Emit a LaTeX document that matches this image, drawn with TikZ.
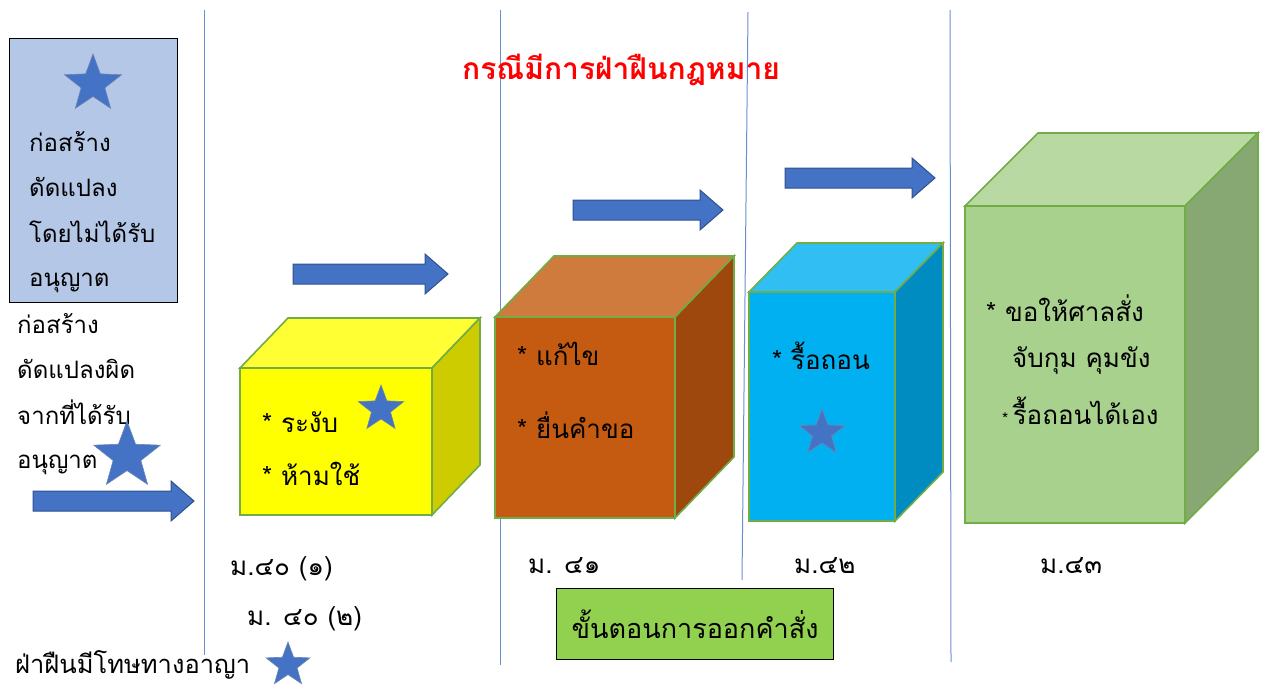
\documentclass[tikz,border=0pt]{standalone}
\usepackage{fontspec}
\setmainfont[Script=Thai]{Loma}
\usetikzlibrary{shapes.geometric}
\definecolor{vline}{HTML}{6A8FD0}
\definecolor{arrfill}{HTML}{4472C4}
\definecolor{arrdraw}{HTML}{2F528F}
\definecolor{cubeedge}{HTML}{70AD47}
\definecolor{boxblue}{HTML}{B4C7E7}
\definecolor{boxgreen}{HTML}{92D050}
\definecolor{yfront}{HTML}{FFFF00}
\definecolor{ytop}{HTML}{FFFF33}
\definecolor{yside}{HTML}{CCCC00}
\definecolor{ofront}{HTML}{C55A11}
\definecolor{otop}{HTML}{CF7B3E}
\definecolor{oside}{HTML}{9E480E}
\definecolor{bfront}{HTML}{00B0F0}
\definecolor{btop}{HTML}{31BEF2}
\definecolor{bside}{HTML}{008CC0}
\definecolor{gfront}{HTML}{A9D18E}
\definecolor{gtop}{HTML}{B9D9A2}
\definecolor{gside}{HTML}{87A872}
\tikzset{
  vl/.style={draw=vline, line width=1pt},
  barr/.style={fill=arrfill, draw=arrdraw, line width=1pt, line join=miter},
  mystar/.style={star, star points=5, star point ratio=2.4, fill=arrfill, draw=arrdraw!70, line width=0.6pt, inner sep=0pt, minimum size=#1},
  face/.style={draw=cubeedge, line width=1.6pt, line join=miter},
  txt/.style={anchor=base west, inner sep=0pt, font=\fontsize{24}{28}\selectfont},
  lbl/.style={anchor=base west, inner sep=0pt, font=\fontsize{26}{30}\selectfont},
}
\newcommand\blockarrow[3]{% x1, x2, yc
  \path[barr] (#1,#3-10) -- (#2-23,#3-10) -- (#2-23,#3-20) -- (#2,#3) -- (#2-23,#3+20) -- (#2-23,#3+10) -- (#1,#3+10) -- cycle;}
\newcommand\mycube[9]{% x0 y0 x1 y1 dx dy front top side
  \path[face, fill=#8] (#1,#2) -- (#1+#5,#2-#6) -- (#3+#5,#2-#6) -- (#3,#2) -- cycle;
  \path[face, fill=#9] (#3,#2) -- (#3+#5,#2-#6) -- (#3+#5,#4-#6) -- (#3,#4) -- cycle;
  \path[face, fill=#7] (#1,#2) rectangle (#3,#4);}
\begin{document}
\begin{tikzpicture}[x=1pt,y=-1pt]
\useasboundingbox (0,0) rectangle (1266,693);
% vertical lines
\draw[vl] (204,10) -- (204,655);
\draw[vl] (500,10) -- (500,665);
\draw[vl] (748,12) -- (742,580);
\draw[vl] (950,10) -- (951,662);
% title
\node[txt, text=red, font=\fontsize{30}{34}\selectfont\bfseries] (title) at (462,80) {กรณีมีการฝ่าฝืนกฎหมาย};
% left box
\node[draw=black, fill=boxblue, line width=1pt, minimum width=168, minimum height=264, anchor=north west, inner sep=0pt] (lbox) at (9,38) {};
\node[mystar=60] (s1) at (93,84) {};
\node[txt] (l1) at (29,151) {ก่อสร้าง};
\node[txt] (l2) at (29,196) {ดัดแปลง};
\node[txt] (l3) at (29,242) {โดยไม่ได้รับ};
\node[txt] (l4) at (29,286) {อนุญาต};
\node[txt] (m1) at (17,333) {ก่อสร้าง};
\node[txt] (m2) at (17,378) {ดัดแปลงผิด};
\node[txt] (m3) at (17,424) {จากที่ได้รับ};
\node[txt] (m4) at (17,468) {อนุญาต};
\node[mystar=70] (s2) at (127,456) {};
% arrows
\blockarrow{33}{194}{501}
\blockarrow{293}{448}{274}
\blockarrow{573}{723}{210}
\blockarrow{785}{935}{178}
% cubes
\mycube{240}{368}{432}{515}{48}{50}{yfront}{ytop}{yside}
\mycube{495}{317}{675}{518}{59}{61}{ofront}{otop}{oside}
\mycube{749}{292}{895}{521}{48}{49}{bfront}{btop}{bside}
\mycube{965}{206}{1185}{523}{73}{73}{gfront}{gtop}{gside}
% cube texts
\node[lbl] (y1) at (262,432) {* ระงับ};
\node[lbl] (y2) at (262,485) {* ห้ามใช้};
\node[mystar=48] (s3) at (381,409) {};
\node[lbl] (o1) at (517,365) {* แก้ไข};
\node[lbl] (o2) at (517,438) {* ยื่นคำขอ};
\node[lbl] (b1) at (772,369) {* รื้อถอน};
\node[mystar=48] (s4) at (822,433) {};
\node[lbl] (g1) at (986,321) {* ขอให้ศาลสั่ง};
\node[lbl] (g2) at (1012,367) {จับกุม คุมขัง};
\node[lbl] (g3) at (1002,424) {{\fontsize{16}{16}\selectfont *}\,รื้อถอนได้เอง};
% labels
\node[lbl] (a1) at (230,575) {ม.๔๐ (๑)};
\node[lbl] (a2) at (247,625) {ม. ๔๐ (๒)};
\node[lbl] (a3) at (528,573) {ม. ๔๑};
\node[lbl] (a4) at (794,573) {ม.๔๒};
\node[lbl] (a5) at (1040,573) {ม.๔๓};
\node[draw=black, fill=boxgreen, line width=1pt, minimum width=277, minimum height=71, anchor=north west, inner sep=0pt] (gbox) at (556,588) {};
\node[font=\fontsize{27}{30}\selectfont, inner sep=0pt] (gboxt) at (gbox.center) {ขั้นตอนการออกคำสั่ง};
\node[lbl, font=\fontsize{25.5}{30}\selectfont] (pen) at (15,673) {ฝ่าฝืนมีโทษทางอาญา};
\node[mystar=46] (s5) at (288,665) {};
\end{tikzpicture}
\end{document}
